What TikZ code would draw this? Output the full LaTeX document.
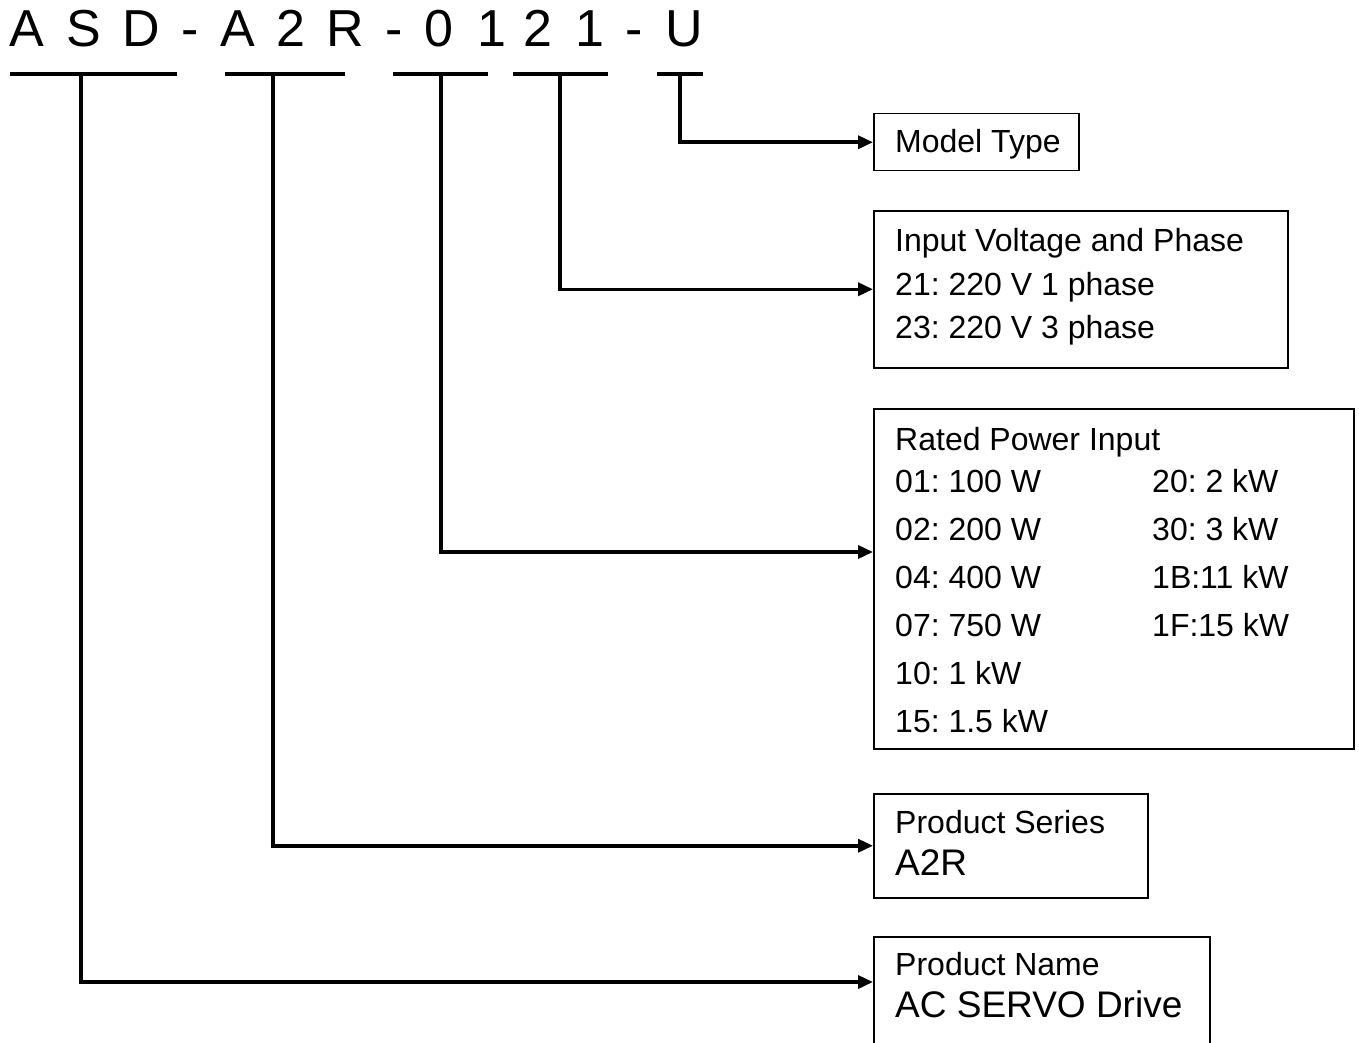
\documentclass[tikz,border=0pt]{standalone}
\usepackage{fontspec}
\setmainfont{Liberation Sans}
\usetikzlibrary{arrows.meta}
\frenchspacing

\begin{document}
\begin{tikzpicture}[
  x=1pt, y=-1pt,
  code/.style={anchor=base, inner sep=0pt, font=\fontsize{52}{60}\selectfont},
  uline/.style={line width=4pt},
  link/.style={line width=3.5pt, -{Triangle[length=15pt,width=13pt]}},
  box/.style={draw, line width=1.5pt, anchor=north west, inner sep=0pt},
  txt/.style={anchor=base west, inner sep=0pt, font=\fontsize{32}{38}\selectfont},
  bigtxt/.style={txt, font=\fontsize{37}{44}\selectfont}
]
\useasboundingbox (0,0) rectangle (1359,1043);

% model code
\foreach \c/\x [count=\i] in {A/27, S/84, D/141, -/190, A/238, 2/291, R/345,
    -/394, 0/439, 1/492, 2/538, 1/590, -/634, U/684}
  \node[code] (t\i) at (\x,47) {\c};

\draw[uline] (10,74) -- (177,74);
\draw[uline] (225,74) -- (345,74);
\draw[uline] (393,74) -- (488,74);
\draw[uline] (513,74) -- (608,74);
\draw[uline] (657,74) -- (703,74);

\coordinate (s1) at (81,74);
\coordinate (s2) at (273,74);
\coordinate (s3) at (441,74);
\coordinate (s4) at (560,74);
\coordinate (s5) at (680,74);

% boxes
\node[box, minimum width=205pt, minimum height=57pt] (mt) at (873,113) {};
\node[box, minimum width=414pt, minimum height=157pt] (iv) at (873,210) {};
\node[box, minimum width=480pt, minimum height=340pt] (rp) at (873,408) {};
\node[box, minimum width=274pt, minimum height=104pt] (ps) at (873,793) {};
\node[box, minimum width=336pt, minimum height=140pt] (pn) at (873,936) {};

\node[txt] (mtl) at (895,153) {Model Type};

\node[txt] (ivl) at (895,251) {Input Voltage and Phase};
\node[txt] (iv1) at (895,295) {21: 220 V 1 phase};
\node[txt] (iv2) at (895,338) {23: 220 V 3 phase};

\node[txt] (rpl) at (895,450) {Rated Power Input};
\foreach \l [count=\i] in {01: 100 W, 02: 200 W, 04: 400 W, 07: 750 W, 10: 1 kW, 15: 1.5 kW}
  \node[txt] (rl\i) at (895,444+48*\i) {\l};
\foreach \r [count=\i] in {20: 2 kW, 30: 3 kW, 1B:11 kW, 1F:15 kW}
  \node[txt] (rr\i) at (1152,444+48*\i) {\r};

\node[txt] (psl) at (895,833) {Product Series};
\node[bigtxt] (psv) at (895,875) {A2R};

\node[txt] (pnl) at (895,975) {Product Name};
\node[bigtxt] (pnv) at (895,1017) {AC SERVO Drive};

% connectors
\draw[link] (s5) |- (mt.west);
\draw[link] (s4) |- (iv.west);
\draw[link] (s3) |- (rp.west |- 0,552);
\draw[link] (s2) |- (ps.west);
\draw[link] (s1) |- (pn.west |- 0,982);
\end{tikzpicture}
\end{document}
